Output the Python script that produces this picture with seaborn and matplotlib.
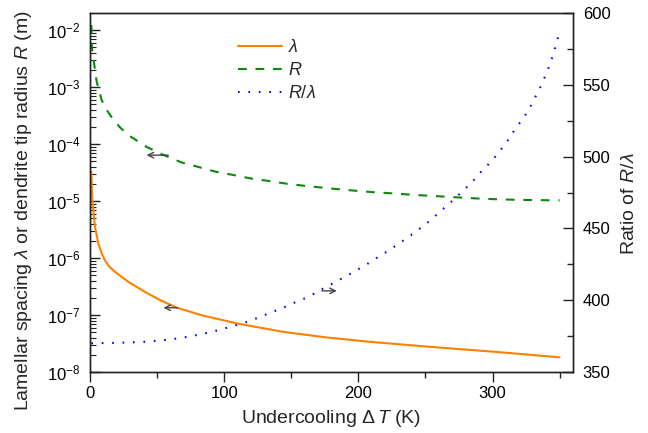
import matplotlib
matplotlib.use("Agg")
import matplotlib.pyplot as plt
import pandas as pd
import seaborn as sns
from matplotlib.ticker import LogLocator, MultipleLocator, LogFormatterSciNotation, NullFormatter

# Lamellar spacing lambda (m) versus undercooling (K)
dt_lam = [1, 1.7, 3.7, 6.2, 8.5, 11, 14.5, 18.6, 28.5, 41, 53, 65, 84, 111, 144, 176, 208,
          248, 300, 350]
lam = [3.27e-5, 1.04e-5, 3.54e-6, 1.81e-6, 1.25e-6, 9.2e-7, 7.0e-7, 5.75e-7, 3.84e-7,
       2.54e-7, 1.79e-7, 1.34e-7, 9.8e-8, 7.0e-8, 5.07e-8, 4.05e-8, 3.4e-8, 2.83e-8,
       2.28e-8, 1.81e-8]

# Dendrite tip radius R (m) versus undercooling (K)
dt_R = [1, 1.4, 2, 3, 5, 8.7, 12, 16, 22, 28.5, 42, 54, 68, 81, 94, 107, 121, 134, 147, 160,
        174, 187, 200, 213, 226, 240, 252, 266, 279, 292, 306, 319, 332, 345, 350]
R = [1.22e-2, 5.1e-3, 3.7e-3, 2.63e-3, 1.24e-3, 5.9e-4, 4.1e-4, 3.0e-4, 2.0e-4, 1.44e-4,
     8.97e-5, 6.55e-5, 4.78e-5, 3.95e-5, 3.26e-5, 2.86e-5, 2.46e-5, 2.24e-5, 2.01e-5,
     1.85e-5, 1.71e-5, 1.60e-5, 1.50e-5, 1.42e-5, 1.36e-5, 1.29e-5, 1.24e-5, 1.19e-5,
     1.14e-5, 1.10e-5, 1.07e-5, 1.05e-5, 1.04e-5, 1.03e-5, 1.03e-5]

# Ratio R/lambda versus undercooling (K)
dt_ratio = [1, 20, 40, 48, 56, 64, 72, 80, 88, 96, 104, 112, 119, 127, 135, 143, 151, 159,
            167, 174, 182, 190, 198, 206, 214, 222, 230, 238, 246, 254, 261, 269, 277, 285,
            292, 300, 306, 312, 317, 323, 328, 332, 336, 339.5, 342.7, 345.2, 347.4, 349.7]
ratio = [370.0, 370.3, 371.0, 371.6, 372.3, 373.2, 374.4, 375.8, 377.4, 379.2, 381.3, 383.4,
         385.5, 388.5, 391.5, 394.3, 397.8, 400.8, 404.5, 408.3, 412.2, 416.3, 420.5, 424.8,
         429.6, 434.2, 439.3, 444.4, 450.0, 455.8, 461.8, 468.3, 475.3, 482.5, 490.0, 497.5,
         504.5, 512.0, 519.4, 526.8, 534.3, 541.7, 549.0, 556.5, 564.0, 571.0, 578.5, 585.7]

sns.set_style("ticks")
plt.rcParams.update({
    "font.family": ["Liberation Sans", "DejaVu Sans"],
    "mathtext.fontset": "custom",
    "mathtext.rm": "Liberation Sans",
    "mathtext.it": "Liberation Sans:italic",
    "mathtext.bf": "Liberation Sans:bold",
    "axes.edgecolor": "#222222",
    "axes.linewidth": 1.0,
    "xtick.color": "#222222",
    "ytick.color": "#222222",
    "xtick.labelcolor": "black",
    "ytick.labelcolor": "black",
    "xtick.labelsize": 12,
    "ytick.labelsize": 12,
})

fig = plt.figure(figsize=(6.48, 4.33), dpi=100)
ax = fig.add_axes([90 / 648, 1 - 372 / 433, 483 / 648, 359 / 433])
ax2 = ax.twinx()

df_lam = pd.DataFrame({"dT": dt_lam, "val": lam})
df_R = pd.DataFrame({"dT": dt_R, "val": R})
df_ratio = pd.DataFrame({"dT": dt_ratio, "val": ratio})

sns.lineplot(data=df_lam, x="dT", y="val", ax=ax, color="#FF8000", lw=1.5,
             label=r"$\lambda$", legend=False)
sns.lineplot(data=df_R, x="dT", y="val", ax=ax, color="#0A8A0A", lw=1.5,
             label=r"$R$", legend=False)
ax.lines[-1].set_linestyle((0, (4.2, 4.2)))
sns.lineplot(data=df_ratio, x="dT", y="val", ax=ax2, color="#0000FF", lw=1.5,
             label=r"$R/\lambda$", legend=False)
ax2.lines[-1].set_linestyle((0, (0.8, 4.2)))

ax.set_yscale("log")
ax.set_xlim(0, 360)
ax.set_ylim(1e-8, 10 ** -1.7)
ax2.set_ylim(350, 600)

ax.xaxis.set_major_locator(MultipleLocator(100))
ax.xaxis.set_minor_locator(MultipleLocator(50))
ax.yaxis.set_major_locator(LogLocator(base=10, numticks=20))
ax.yaxis.set_minor_locator(LogLocator(base=10, subs=[2, 3, 4, 5, 6, 7, 8, 9], numticks=20))
ax.yaxis.set_major_formatter(LogFormatterSciNotation())
ax.yaxis.set_minor_formatter(NullFormatter())
ax2.yaxis.set_major_locator(MultipleLocator(50))
ax2.yaxis.set_minor_locator(MultipleLocator(25))

ax.tick_params(axis="x", which="major", direction="out", length=7, width=1.0, pad=3, top=False)
ax.tick_params(axis="x", which="minor", direction="out", length=4, width=1.0, top=False)
ax.tick_params(axis="y", which="major", direction="in", length=7, width=1.0, pad=7, right=False)
ax.tick_params(axis="y", which="minor", direction="in", length=4, width=0.8, right=False)
ax2.tick_params(axis="y", which="major", direction="in", length=7, width=1.0, pad=7)
ax2.tick_params(axis="y", which="minor", direction="in", length=4, width=1.0)

ax.set_xlabel(r"Undercooling $\Delta\,T$ (K)", fontsize=14, labelpad=5)
ax.set_ylabel(r"Lamellar spacing $\lambda$ or dendrite tip radius $R$ (m)", fontsize=14)
ax.yaxis.set_label_coords(-0.116, 0.45)
ax2.set_ylabel(r"Ratio of $R/\lambda$", fontsize=14)
ax2.yaxis.set_label_coords(1.1, 0.47)

for spine in ax2.spines.values():
    spine.set_linewidth(1.0)

# Arrows pointing each curve to its axis
arrow = dict(arrowstyle="->", color="#444444", lw=1.0, shrinkA=0, shrinkB=0)
ax.annotate("", xy=(0.117, 0.604), xytext=(0.162, 0.604), xycoords="axes fraction",
            textcoords="axes fraction", arrowprops=arrow)
ax.annotate("", xy=(0.152, 0.179), xytext=(0.182, 0.179), xycoords="axes fraction",
            textcoords="axes fraction", arrowprops=arrow)
ax.annotate("", xy=(0.511, 0.226), xytext=(0.480, 0.226), xycoords="axes fraction",
            textcoords="axes fraction", arrowprops=arrow)

handles = ax.lines[:2] + ax2.lines[:1]
labels = [r"$\lambda$", r"$R$", r"$R/\lambda$"]
ax2.legend(handles, labels, loc="upper left", bbox_to_anchor=(0.306, 0.928),
           frameon=False, fontsize=13, handlelength=2.45, handletextpad=0.35,
           labelspacing=0.35, borderpad=0, borderaxespad=0)

fig.savefig("out.png", dpi=100)
